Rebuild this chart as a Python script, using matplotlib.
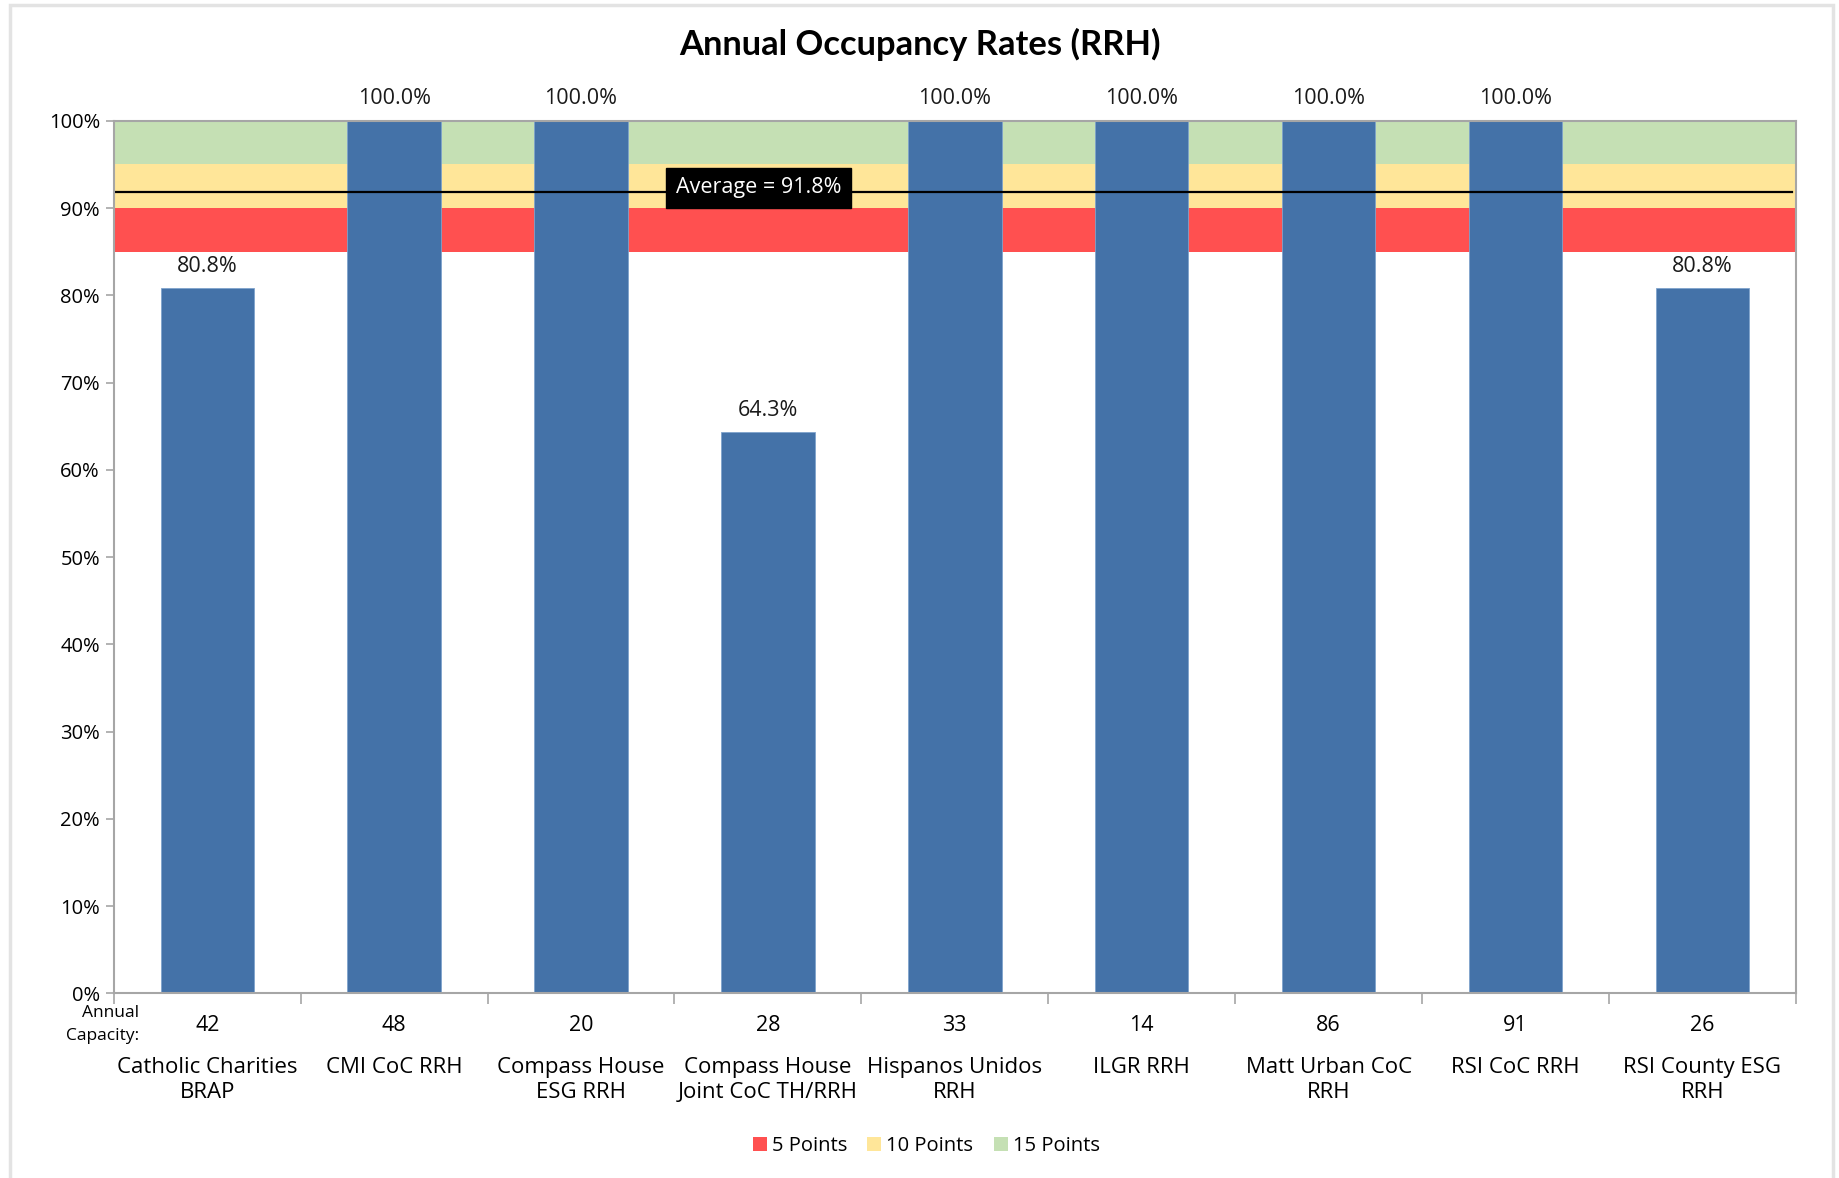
import matplotlib
matplotlib.use("Agg")
import matplotlib.pyplot as plt
from matplotlib.patches import Rectangle, Patch
from matplotlib.transforms import blended_transform_factory, offset_copy
import numpy as np

programs = ["Catholic Charities\nBRAP", "CMI CoC RRH", "Compass House\nESG RRH",
            "Compass House\nJoint CoC TH/RRH", "Hispanos Unidos\nRRH", "ILGR RRH",
            "Matt Urban CoC\nRRH", "RSI CoC RRH", "RSI County ESG\nRRH"]
occupancy = [80.8, 100.0, 100.0, 64.3, 100.0, 100.0, 100.0, 100.0, 80.8]
capacity = [42, 48, 20, 28, 33, 14, 86, 91, 26]
average = 91.8
bands = [("5 Points", 85, 90, "#FF5050"),
         ("10 Points", 90, 95, "#FFE699"),
         ("15 Points", 95, 100, "#C5E0B4")]
yticks = [0, 10, 20, 30, 40, 50, 60, 70, 80, 90, 100]

body_font = "Open Sans"
plt.rcParams['font.family'] = [body_font, 'DejaVu Sans']

fig = plt.figure(figsize=(18.39, 11.78), dpi=100)
ax = fig.add_axes([0.0619, 0.1567, 0.9146, 0.7408])

# outer chart border
fig.patches.append(Rectangle((10 / 1839, -0.01), (1833 - 10) / 1839, 1 - 5 / 1178 + 0.01,
                             transform=fig.transFigure, fill=False,
                             edgecolor="#E3E3E3", linewidth=2.5))

x = np.arange(len(programs))
handles = []
for name, lo, hi, col in bands:
    ax.axhspan(lo, hi, color=col, zorder=1, linewidth=0)
    handles.append(Patch(facecolor=col, edgecolor='none', label=name))

ax.bar(x, occupancy, width=0.5, color="#4472A8", zorder=3, edgecolor="#7FA3CC", linewidth=0.6)

ax.axhline(average, color="black", linewidth=1.6, zorder=4, xmin=0, xmax=0.998)
ax.text(2.95, 92.3, f"Average = {average}%", color="white", fontsize=15.5,
        ha="center", va="center", zorder=5,
        bbox=dict(boxstyle="square,pad=0.45", facecolor="black", edgecolor="black"))

for xi, v in zip(x, occupancy):
    ax.annotate(f"{v:.1f}%", (xi, v), xytext=(0, 16), textcoords="offset points",
                ha="center", va="center", fontsize=15.5, color="#1a1a1a")

ax.set_xlim(-0.5, len(programs) - 0.5)
ax.set_ylim(0, 100)
ax.set_yticks(yticks)
ax.set_yticklabels([f"{t}%" for t in yticks], fontsize=14.5)
ax.set_xticks([])
ax.set_xticks(np.arange(len(programs) + 1) - 0.5, minor=True)
ax.tick_params(axis="x", which="minor", length=8, color="#A6A6A6", width=1.2, labelbottom=False)
ax.tick_params(axis="y", length=6, color="#A6A6A6", width=1.2, pad=4)
for s in ax.spines.values():
    s.set_color("#A6A6A6")
    s.set_linewidth(1.5)
    s.set_zorder(6)

trans = blended_transform_factory(ax.transData, ax.transAxes)
for xi, cap, name in zip(x, capacity, programs):
    ax.text(xi, 0, str(cap), transform=offset_copy(trans, fig=fig, x=0, y=-32, units="dots"),
            ha="center", va="center", fontsize=15.5)
    ax.text(xi, 0, name, transform=offset_copy(trans, fig=fig, x=0, y=-64, units="dots"),
            ha="center", va="top", fontsize=16, linespacing=1.2)

fig.text(139 / 1839, 1 - 1013 / 1178, "Annual", ha="right", va="center", fontsize=12.5)
fig.text(139 / 1839, 1 - 1036 / 1178, "Capacity:", ha="right", va="center", fontsize=12.5)

fig.text(0.5, 0.962, "Annual Occupancy Rates (RRH)", ha="center", va="center",
         fontsize=24.8, fontweight="bold", family=["Lato", "DejaVu Sans"])

fig.legend(handles=handles, loc="center", bbox_to_anchor=(0.5036, 1 - 1146 / 1178),
           ncol=3, frameon=False, fontsize=14.5, handlelength=0.7, handleheight=0.7,
           handletextpad=0.25, columnspacing=1.0)

fig.savefig("out.png", dpi=100)
